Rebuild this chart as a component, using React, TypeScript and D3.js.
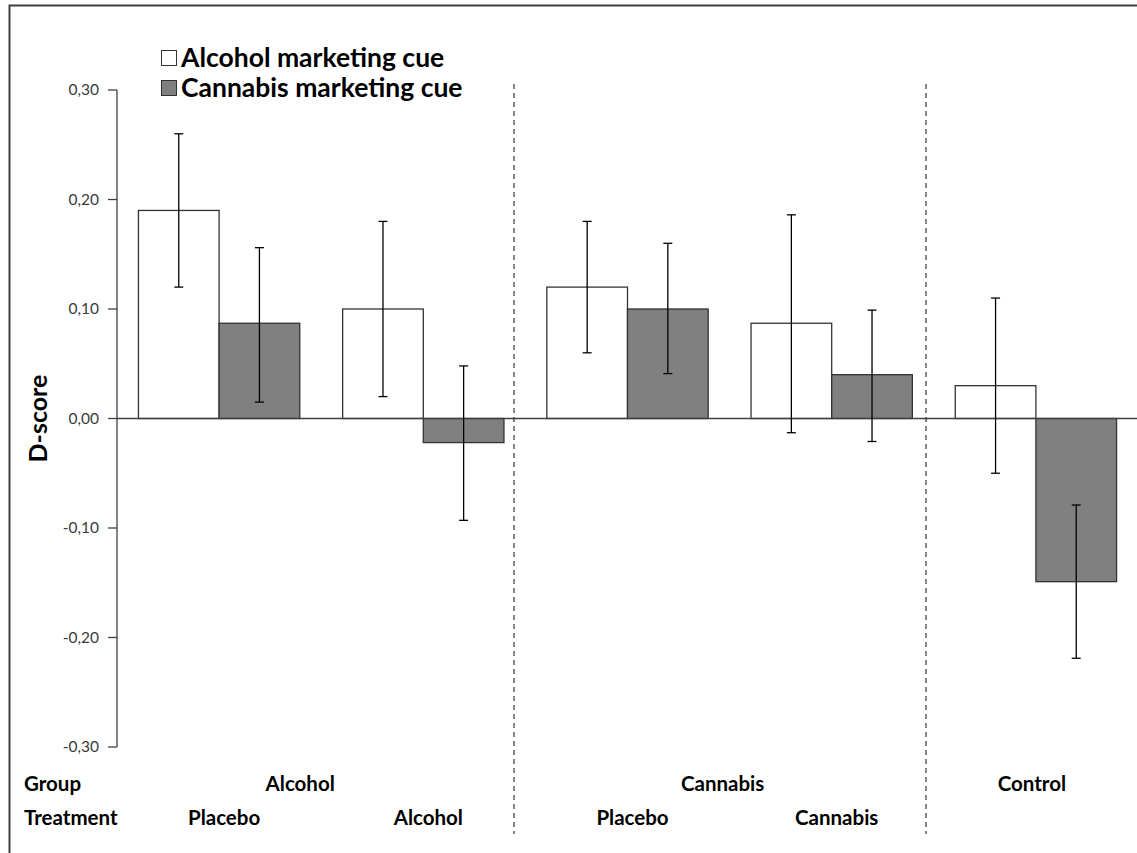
import React from "react";
import * as d3 from "d3";

// conditions (x) and bottom label rows
const conditions = ["Alc-Pla", "Alc-Alc", "Can-Pla", "Can-Can", "Control"];
const treatments = ["Placebo", "Alcohol", "Placebo", "Cannabis", ""];
const groups = [
  { label: "Alcohol", members: [0, 1], dx: -21 },
  { label: "Cannabis", members: [2, 3], dx: -7 },
  { label: "Control", members: [4], dx: -4 },
];
const series = ["Alcohol marketing cue", "Cannabis marketing cue"];

// mean D-scores and error bar ends
const alcoholCue = [0.19, 0.1, 0.12, 0.087, 0.03];
const alcoholLow = [0.12, 0.02, 0.06, -0.013, -0.05];
const alcoholHigh = [0.26, 0.18, 0.18, 0.186, 0.11];
const cannabisCue = [0.087, -0.022, 0.1, 0.04, -0.149];
const cannabisLow = [0.015, -0.093, 0.041, -0.021, -0.219];
const cannabisHigh = [0.156, 0.048, 0.16, 0.099, -0.079];

const yTicks = [0.3, 0.2, 0.1, 0, -0.1, -0.2, -0.3];

const W = 1137;
const H = 853;
const FONT = "Lato, 'Open Sans', sans-serif";
const fills = ["#ffffff", "#808080"];

export default function App() {
  const y = d3.scaleLinear().domain([-0.3, 0.3]).range([747, 90]);
  const x = d3
    .scaleBand<string>()
    .domain(conditions)
    .range([117, 1138])
    .paddingInner(0.21)
    .paddingOuter(0.105);
  const xs = d3.scaleBand<string>().domain(series).range([0, x.bandwidth()]);

  const values = [alcoholCue, cannabisCue];
  const lows = [alcoholLow, cannabisLow];
  const highs = [alcoholHigh, cannabisHigh];
  const fmt = (v: number) => d3.format(".2f")(v).replace(".", ",").replace("−", "-");
  const center = (i: number) => (x(conditions[i]) as number) + x.bandwidth() / 2;
  const y0 = y(0);

  // dashed dividers sit between condition groups
  const dividers = [514, 926];

  return (
    <svg
      width={W}
      height={H}
      style={{ position: "absolute", left: 0, top: 0, background: "#fff" }}
      fontFamily={FONT}
    >
      {/* frame */}
      <path d={`M9.5,${H} V5.5 H${W}`} fill="none" stroke="#404040" strokeWidth={2} />

      {/* y axis */}
      <line x1={117} x2={117} y1={y(0.3)} y2={y(-0.3)} stroke="#404040" strokeWidth={1.3} />
      {yTicks.map((t) => (
        <g key={t}>
          <line x1={108} x2={117} y1={y(t)} y2={y(t)} stroke="#404040" strokeWidth={1.3} />
          <text
            x={99}
            y={y(t)}
            dy="0.35em"
            textAnchor="end"
            fontSize={15.5}
            fill="#3a3a3a"
          >
            {fmt(t)}
          </text>
        </g>
      ))}
      <text
        transform={`translate(47,${y0}) rotate(-90)`}
        textAnchor="middle"
        fontSize={25}
        fontWeight="bold"
        fill="#000"
      >
        D-score
      </text>

      {/* dividers */}
      {dividers.map((dx) => (
        <line
          key={dx}
          x1={dx}
          x2={dx}
          y1={84}
          y2={834}
          stroke="#333"
          strokeWidth={1.2}
          strokeDasharray="5,4"
        />
      ))}

      {/* bars */}
      {conditions.map((c, i) => (
        <g key={c}>
          {series.map((s, k) => {
            const v = values[k][i];
            const bx = (x(c) as number) + (xs(s) as number);
            return (
              <rect
                key={s}
                x={bx}
                y={Math.min(y(v), y0)}
                width={xs.bandwidth()}
                height={Math.abs(y(v) - y0)}
                fill={fills[k]}
                stroke="#333"
                strokeWidth={1.3}
              />
            );
          })}
        </g>
      ))}

      {/* zero line */}
      <line x1={117} x2={W} y1={y0} y2={y0} stroke="#404040" strokeWidth={1.3} />

      {/* error bars */}
      {conditions.map((c, i) => (
        <g key={"e" + c}>
          {series.map((s, k) => {
            const cx = (x(c) as number) + (xs(s) as number) + xs.bandwidth() / 2;
            const lo = y(lows[k][i]);
            const hi = y(highs[k][i]);
            return (
              <g key={s} stroke="#000" strokeWidth={1.3}>
                <line x1={cx} x2={cx} y1={hi} y2={lo} />
                <line x1={cx - 4.5} x2={cx + 4.5} y1={hi} y2={hi} />
                <line x1={cx - 4.5} x2={cx + 4.5} y1={lo} y2={lo} />
              </g>
            );
          })}
        </g>
      ))}

      {/* legend */}
      {series.map((s, k) => (
        <g key={s} transform={`translate(161,${50 + k * 30})`}>
          <rect x={0.5} y={0.5} width={15} height={15} fill={fills[k]} stroke="#333" strokeWidth={1} />
          <text x={20} y={17} fontSize={26.5} fontWeight="bold" fill="#000">
            {s}
          </text>
        </g>
      ))}

      {/* bottom labels */}
      <text x={24} y={791} fontSize={20.5} fontWeight="bold" fill="#000">
        Group
      </text>
      <text x={24} y={825} fontSize={20.5} fontWeight="bold" fill="#000">
        Treatment
      </text>
      {groups.map((g) => (
        <text
          key={g.label}
          x={d3.mean(g.members, center)! + g.dx}
          y={791}
          textAnchor="middle"
          fontSize={20.5}
          fontWeight="bold"
          fill="#000"
        >
          {g.label}
        </text>
      ))}
      {treatments.map((t, i) => (
        <text
          key={"t" + i}
          x={center(i) + 5}
          y={825}
          textAnchor="middle"
          fontSize={20.5}
          fontWeight="bold"
          fill="#000"
        >
          {t}
        </text>
      ))}
    </svg>
  );
}
